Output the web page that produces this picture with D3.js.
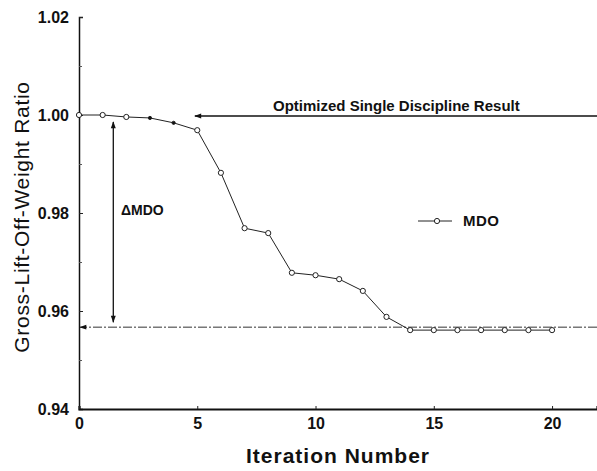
<!DOCTYPE html>
<html>
<head>
<meta charset="utf-8">
<script src="https://cdn.jsdelivr.net/npm/d3@7"></script>
<style>
  body { margin: 0; background: #fff; }
  svg { display: block; font-family: Arial, "Liberation Sans", Helvetica, sans-serif; }
</style>
</head>
<body>
<div id="chart"></div>
<script>
// iteration history of the MDO run
const iterations = [0, 1, 2, 3, 4, 5, 6, 7, 8, 9, 10, 11, 12, 13, 14, 15, 16, 17, 18, 19, 20]
const mdoValues = [1.0000, 1.0000, 0.9996, 0.9994, 0.9984, 0.9969, 0.9882, 0.9769, 0.9759, 0.9678, 0.9673,
                   0.9665, 0.9641, 0.9588, 0.9561, 0.9561, 0.9561, 0.9561, 0.9561, 0.9561, 0.9561]
const singleDisciplineValue = 1.000
const mdoFinalValue = 0.9567
const xTicks = [0, 5, 10, 15, 20]
const yTicks = [0.94, 0.96, 0.98, 1.00, 1.02]
const yMinorTicks = [0.95, 0.97, 0.99, 1.01]

const width = 597, height = 471
const margin = {top: 17, right: 0, bottom: 62, left: 79}

const svg = d3.select('#chart').append('svg')
    .attr('width', width)
    .attr('height', height)

const x = d3.scaleLinear().domain([0, 21.9]).range([margin.left, width - margin.right])
const y = d3.scaleLinear().domain([0.94, 1.02]).range([height - margin.bottom, margin.top])

const defs = svg.append('defs')
defs.append('marker')
    .attr('id', 'arrow')
    .attr('viewBox', '0 0 10 10')
    .attr('refX', 9).attr('refY', 5)
    .attr('markerWidth', 9).attr('markerHeight', 7)
    .attr('markerUnits', 'userSpaceOnUse')
    .attr('orient', 'auto-start-reverse')
  .append('path')
    .attr('d', 'M0,1.5 L10,5 L0,8.5 Z')
    .attr('fill', '#111')

// y axis
const yAxis = svg.append('g')
    .attr('transform', `translate(${margin.left},0)`)
    .call(d3.axisLeft(y).tickValues(yTicks).tickFormat(d3.format('.2f')).tickSize(-4).tickPadding(10))
yAxis.select('.domain').attr('stroke', '#111').attr('stroke-width', 1.5)
yAxis.selectAll('.tick line').attr('stroke', '#222')
yAxis.selectAll('.tick text')
    .attr('font-size', 16).attr('font-weight', 'bold').attr('fill', '#111')

svg.append('g')
    .attr('transform', `translate(${margin.left},0)`)
    .call(d3.axisLeft(y).tickValues(yMinorTicks).tickFormat('').tickSize(-3))
    .call(g => g.select('.domain').remove())
    .selectAll('.tick line').attr('stroke', '#555')

// x axis
const xAxis = svg.append('g')
    .attr('transform', `translate(0,${y(0.94)})`)
    .call(d3.axisBottom(x).tickValues(xTicks).tickSize(-3).tickPadding(9))
xAxis.select('.domain').attr('stroke', '#111').attr('stroke-width', 2.2)
xAxis.selectAll('.tick line').attr('stroke', '#222')
xAxis.selectAll('.tick text')
    .attr('font-size', 16).attr('font-weight', 'bold').attr('fill', '#111')

// axis titles
svg.append('text')
    .attr('transform', `translate(29,${(y(0.94) + y(1.02)) / 2 + 4}) rotate(-90)`)
    .attr('text-anchor', 'middle')
    .attr('font-size', 21)
    .style('letter-spacing', '0.7px')
    .attr('fill', '#111')
    .text('Gross-Lift-Off-Weight Ratio')

svg.append('text')
    .attr('x', (x.range()[0] + x.range()[1]) / 2)
    .attr('y', 463)
    .attr('text-anchor', 'middle')
    .attr('font-size', 21)
    .attr('font-weight', 'bold')
    .style('letter-spacing', '1px')
    .attr('fill', '#111')
    .text('Iteration Number')

// single discipline result arrow
svg.append('line')
    .attr('x1', x(21.9)).attr('y1', y(singleDisciplineValue) + 1)
    .attr('x2', x(4.9)).attr('y2', y(singleDisciplineValue) + 1)
    .attr('stroke', '#111').attr('stroke-width', 1.5)
    .attr('marker-end', 'url(#arrow)')

svg.append('text')
    .attr('x', 273).attr('y', y(singleDisciplineValue) - 4)
    .attr('font-size', 15).attr('font-weight', 'bold').attr('fill', '#111')
    .text('Optimized Single Discipline Result')

// final MDO level, dash-dot line
svg.append('line')
    .attr('x1', x(21.9)).attr('y1', y(mdoFinalValue))
    .attr('x2', x(0) + 1).attr('y2', y(mdoFinalValue))
    .attr('stroke', '#333').attr('stroke-width', 1)
    .attr('stroke-dasharray', '9,2,2,2')
    .attr('marker-end', 'url(#arrow)')

// delta MDO double arrow
svg.append('line')
    .attr('x1', x(1.45)).attr('y1', y(singleDisciplineValue) + 7)
    .attr('x2', x(1.45)).attr('y2', y(mdoFinalValue) - 5)
    .attr('stroke', '#111').attr('stroke-width', 1.3)
    .attr('marker-start', 'url(#arrow)')
    .attr('marker-end', 'url(#arrow)')

svg.append('text')
    .attr('x', 121).attr('y', 215)
    .attr('font-size', 14).attr('font-weight', 'bold').attr('fill', '#111')
    .text('ΔMDO')

// MDO series
const line = d3.line()
    .x((d, i) => x(iterations[i]))
    .y(d => y(d))

svg.append('path')
    .datum(mdoValues)
    .attr('d', line)
    .attr('fill', 'none')
    .attr('stroke', '#222')
    .attr('stroke-width', 1)

svg.append('g').selectAll('circle')
    .data(mdoValues)
    .enter().append('circle')
    .attr('cx', (d, i) => x(iterations[i]))
    .attr('cy', d => y(d))
    .attr('r', (d, i) => (i === 3 || i === 4) ? 1.6 : 2.6)
    .attr('fill', (d, i) => (i === 3 || i === 4) ? '#111' : '#fff')
    .attr('stroke', '#222')
    .attr('stroke-width', 1)

// legend
const legend = svg.append('g').attr('transform', 'translate(418,221)')
legend.append('line')
    .attr('x1', 0).attr('x2', 34).attr('y1', 0).attr('y2', 0)
    .attr('stroke', '#222').attr('stroke-width', 1)
legend.append('circle')
    .attr('cx', 19).attr('cy', 0).attr('r', 2.6)
    .attr('fill', '#fff').attr('stroke', '#222')
legend.append('text')
    .attr('x', 45).attr('y', 5)
    .attr('font-size', 15).attr('font-weight', 'bold')
    .style('letter-spacing', '0.4px')
    .attr('fill', '#111')
    .text('MDO')
</script>
</body>
</html>
